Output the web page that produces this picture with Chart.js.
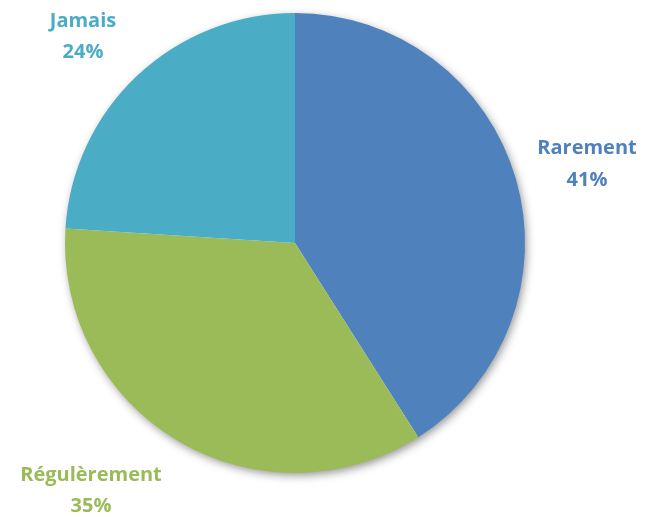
<!DOCTYPE html>
<html>
<head>
<meta charset="utf-8">
<script src="https://cdn.jsdelivr.net/npm/chart.js@4/dist/chart.umd.min.js"></script>
<style>
  html, body { margin: 0; padding: 0; background: #ffffff; }
  #wrap { width: 646px; height: 517px; position: relative; }
</style>
</head>
<body>
<div id="wrap"><canvas id="chart" width="646" height="517"></canvas></div>
<script>
// Répartition des réponses
const categories = ['Rarement', 'Régulèrement', 'Jamais'];
const percentages = [41, 35, 24];
const sliceColors = ['#4F81BD', '#9BBB59', '#4BACC6'];

// Label anchor points (text centre, two lines)
const labelAnchors = [
  { x: 587, y1: 148, y2: 180 },
  { x: 91,  y1: 475, y2: 506 },
  { x: 83,  y1: 21,  y2: 52 }
];

// Soft drop shadow painted behind the whole pie
const pieShadow = {
  id: 'pieShadow',
  beforeDatasetsDraw(chart) {
    const arc = chart.getDatasetMeta(0).data[0];
    if (!arc) return;
    const ctx = chart.ctx;
    ctx.save();
    ctx.shadowColor = 'rgba(0,0,0,0.45)';
    ctx.shadowBlur = 10;
    ctx.shadowOffsetX = 2;
    ctx.shadowOffsetY = 3;
    ctx.fillStyle = '#ffffff';
    ctx.beginPath();
    ctx.arc(arc.x, arc.y, arc.outerRadius - 1, 0, Math.PI * 2);
    ctx.fill();
    ctx.restore();
  }
};

// Category name + percentage outside each slice
const sliceLabels = {
  id: 'sliceLabels',
  afterDatasetsDraw(chart) {
    const ctx = chart.ctx;
    ctx.save();
    ctx.font = 'bold 20px "Open Sans", sans-serif';
    ctx.textAlign = 'center';
    ctx.textBaseline = 'middle';
    categories.forEach((name, i) => {
      const a = labelAnchors[i];
      ctx.fillStyle = sliceColors[i];
      ctx.fillText(name, a.x, a.y1);
      ctx.fillText(percentages[i] + '%', a.x, a.y2);
    });
    ctx.restore();
  }
};

new Chart(document.getElementById('chart'), {
  type: 'pie',
  data: {
    labels: categories,
    datasets: [{
      data: percentages,
      backgroundColor: sliceColors,
      borderWidth: 0
    }]
  },
  options: {
    responsive: false,
    animation: false,
    layout: { padding: { left: 65, right: 121, top: 13, bottom: 44 } },
    plugins: {
      legend: { display: false },
      tooltip: { enabled: false }
    }
  },
  plugins: [pieShadow, sliceLabels]
});
</script>
</body>
</html>
